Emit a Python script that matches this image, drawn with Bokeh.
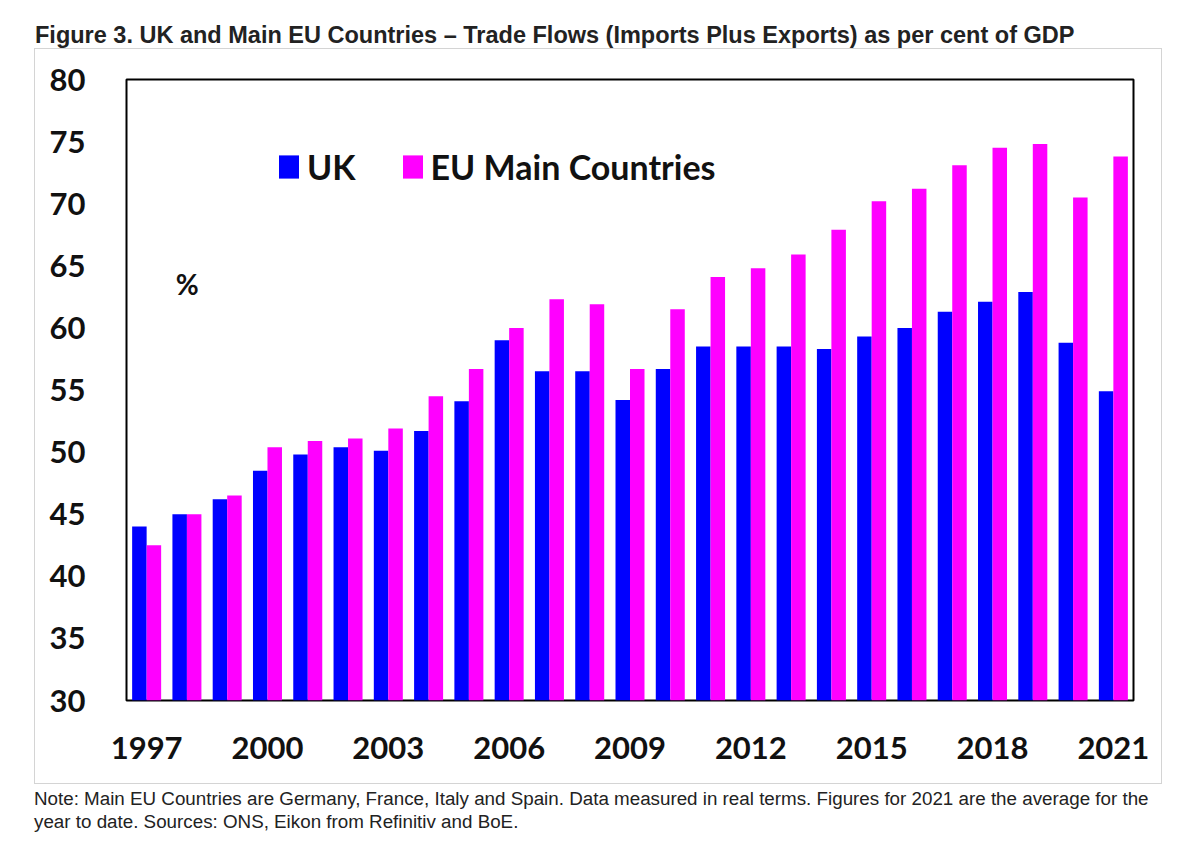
from bokeh.plotting import figure
from bokeh.models import Range1d, FixedTicker, Legend, LegendItem, Label, Div, ColumnDataSource
from bokeh.transform import dodge
from bokeh.layouts import column
from bokeh.embed import file_html
from bokeh.resources import INLINE

years = list(range(1997, 2022))
uk = [44.0, 45.0, 46.2, 48.5, 49.8, 50.4, 50.1, 51.7, 54.1, 59.0, 56.5, 56.5, 54.2,
      56.7, 58.5, 58.5, 58.5, 58.3, 59.3, 60.0, 61.3, 62.1, 62.9, 58.8, 54.9]
eu = [42.5, 45.0, 46.5, 50.4, 50.9, 51.1, 51.9, 54.5, 56.7, 60.0, 62.3, 61.9, 56.7,
      61.5, 64.1, 64.8, 65.9, 67.9, 70.2, 71.2, 73.1, 74.5, 74.8, 70.5, 73.8]
x_ticks = [1997, 2000, 2003, 2006, 2009, 2012, 2015, 2018, 2021]
y_ticks = [30, 35, 40, 45, 50, 55, 60, 65, 70, 75, 80]
series_names = ["UK", "EU Main Countries"]
title_text = "Figure 3. UK and Main EU Countries \u2013 Trade Flows (Imports Plus Exports) as per cent of GDP"
note_lines = [
    "Note: Main EU Countries are Germany, France, Italy and Spain. Data measured in real terms. Figures for 2021 are the average for the",
    "year to date. Sources: ONS, Eikon from Refinitiv and BoE.",
]

FONT = "Lato"
BLUE = "#0000FF"
PINK = "#FF00FF"

src = ColumnDataSource(dict(year=years, uk=uk, eu=eu))

p = figure(width=1128, height=736, output_backend="svg", toolbar_location=None,
           x_range=Range1d(1996.5, 2021.5), y_range=Range1d(30, 80),
           min_border_left=91, min_border_right=30, min_border_top=30, min_border_bottom=85,
           margin=(0, 0, 0, 34),
           styles={"border": "1px solid #d4d4d4"})
p.background_fill_color = "white"
p.border_fill_color = "white"
p.outline_line_color = "black"
p.outline_line_width = 2
p.grid.visible = False

bw = 0.36
r1 = p.vbar(x=dodge("year", -bw / 2, range=p.x_range), top="uk", bottom=30, width=bw,
            source=src, fill_color=BLUE, line_color=None)
r2 = p.vbar(x=dodge("year", bw / 2, range=p.x_range), top="eu", bottom=30, width=bw,
            source=src, fill_color=PINK, line_color=None)

for ax in (p.xaxis[0], p.yaxis[0]):
    ax.axis_line_color = None
    ax.major_tick_line_color = None
    ax.minor_tick_line_color = None
    ax.major_tick_out = 0
    ax.major_tick_in = 0
    ax.minor_tick_out = 0
    ax.major_label_text_font = FONT
    ax.major_label_text_font_style = "bold"
    ax.major_label_text_font_size = "31px"
    ax.major_label_text_color = "#111111"

p.xaxis[0].ticker = FixedTicker(ticks=x_ticks)
p.yaxis[0].ticker = FixedTicker(ticks=y_ticks)
p.xaxis[0].major_label_standoff = 36
p.yaxis[0].major_label_standoff = 41

legend = Legend(items=[LegendItem(label=series_names[0], renderers=[r1]),
                       LegendItem(label=series_names[1], renderers=[r2])],
                location=(150, 513), orientation="horizontal",
                glyph_width=25, glyph_height=29, label_standoff=6, spacing=44,
                padding=0, margin=0, border_line_color=None, background_fill_alpha=0,
                label_text_font=FONT, label_text_font_style="bold",
                label_text_font_size="34px", label_text_color="#111111")
p.add_layout(legend)

pct = Label(x=1997.72, y=63.5, text="%", text_baseline="middle", text_align="left",
            text_font=FONT, text_font_style="bold", text_font_size="28px", text_color="#111111")
p.add_layout(pct)

title_div = Div(width=1184, height=38,
                text='<div style="margin:20px 0 0 30px; font-family:\'Liberation Sans\',Arial,sans-serif; '
                     'font-weight:bold; font-size:23.5px; line-height:20px; color:#222; white-space:nowrap;">'
                     + title_text + '</div>')
note_div = Div(width=1184, height=50,
               text='<div style="margin:-2px 0 0 29px; font-family:\'Liberation Sans\',Arial,sans-serif; '
                    'font-size:18.8px; line-height:23px; color:#222; white-space:nowrap;">'
                    + "<br>".join(note_lines) + '</div>')

layout = column(title_div, p, note_div)

open("out.html", "w").write(file_html(layout, INLINE))
